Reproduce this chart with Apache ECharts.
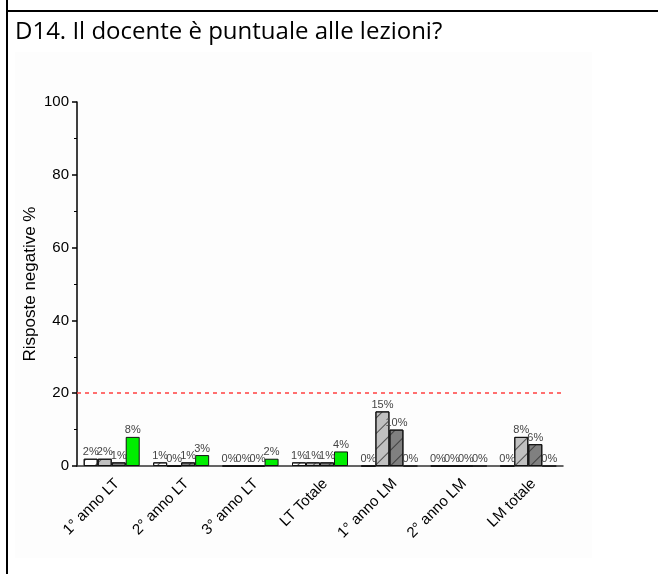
<!DOCTYPE html>
<html>
<head>
<meta charset="utf-8">
<script src="https://cdn.jsdelivr.net/npm/echarts@6/dist/echarts.min.js"></script>
<style>
  html, body { margin: 0; padding: 0; background: #fff; }
  #chart { width: 658px; height: 574px; }
</style>
</head>
<body>
<div id="chart"></div>
<script>
// categorie e valori (% risposte negative)
const categories = ['1° anno LT', '2° anno LT', '3° anno LT', 'LT Totale', '1° anno LM', '2° anno LM', 'LM totale']
const serieBianca = [2, 1, 0, 1, 0, 0, 0]
const serieGrigioChiaro = [2, 0, 0, 1, 15, 0, 8]
const serieGrigioScuro = [1, 1, 0, 1, 10, 0, 6]
const serieVerde = [8, 3, 2, 4, 0, 0, 0]
const soglia = 20
const yTicks = [0, 20, 40, 60, 80, 100]

const chart = echarts.init(document.getElementById('chart'))

const hatch = {
  symbol: 'rect',
  symbolSize: 1,
  dashArrayX: [1, 0],
  dashArrayY: [1, 10],
  rotation: -Math.PI / 4,
  color: 'rgba(40,40,40,0.75)',
}

const label = {
  show: true,
  position: 'top',
  distance: 1,
  formatter: '{c}%',
  color: '#444',
  fontSize: 11,
  fontFamily: 'Liberation Sans',
}

function barSeries(name, data, fill, withHatch) {
  return {
    name,
    type: 'bar',
    data,
    barWidth: 14,
    barGap: '0%',
    itemStyle: {
      color: fill,
      borderColor: '#111',
      borderWidth: 1,
      decal: withHatch ? hatch : null,
    },
    label,
  }
}

const series = [
  barSeries('a', serieBianca, '#ffffff', true),
  barSeries('b', serieGrigioChiaro, '#c0c0c0', true),
  barSeries('c', serieGrigioScuro, '#808080', true),
  barSeries('d', serieVerde, '#00ee00', false),
]
series[0].markLine = {
  silent: true,
  symbol: 'none',
  label: { show: false },
  lineStyle: { color: '#ff4040', type: [4, 4], width: 1.5 },
  data: [{ yAxis: soglia }],
}

chart.setOption({
  animation: false,
  backgroundColor: '#ffffff',
  title: {
    text: 'D14. Il docente è puntuale alle lezioni?',
    left: 15,
    top: 20,
    padding: 0,
    textStyle: { fontFamily: 'Open Sans', fontSize: 24, fontWeight: 'normal', color: '#000' },
  },
  graphic: [
    { type: 'rect', shape: { x: 15, y: 52, width: 577, height: 506 }, style: { fill: '#fdfdfd' }, z: -10 },
    { type: 'line', shape: { x1: 7, y1: 0, x2: 7, y2: 574 }, style: { stroke: '#000', lineWidth: 2 } },
    { type: 'line', shape: { x1: 7, y1: 11, x2: 658, y2: 11 }, style: { stroke: '#000', lineWidth: 2 } },
  ],
  grid: { left: 77, right: 95, top: 102, bottom: 108, containLabel: false },
  xAxis: {
    type: 'category',
    data: categories,
    axisLine: { lineStyle: { color: '#333', width: 1.5 } },
    axisTick: { alignWithLabel: true, length: 6, lineStyle: { color: '#333', width: 1.5 } },
    axisLabel: { rotate: 45, margin: 10, verticalAlign: 'top', fontSize: 15, fontFamily: 'Liberation Sans', color: '#000' },
  },
  yAxis: {
    type: 'value',
    min: yTicks[0],
    max: yTicks[yTicks.length - 1],
    interval: 20,
    name: 'Risposte negative %',
    nameLocation: 'middle',
    nameGap: 38,
    nameMoveOverlap: false,
    nameTextStyle: { fontFamily: 'Liberation Sans', fontSize: 17, color: '#000' },
    axisLine: { show: true, lineStyle: { color: '#000', width: 1.5 } },
    axisTick: { show: true, length: 5, lineStyle: { color: '#000', width: 1.5 } },
    minorTick: { show: true, splitNumber: 2, length: 3, lineStyle: { color: '#000', width: 1 } },
    splitLine: { show: false },
    axisLabel: { fontSize: 15, fontFamily: 'Liberation Sans', color: '#000', margin: 8 },
  },
  series,
})
</script>
</body>
</html>
